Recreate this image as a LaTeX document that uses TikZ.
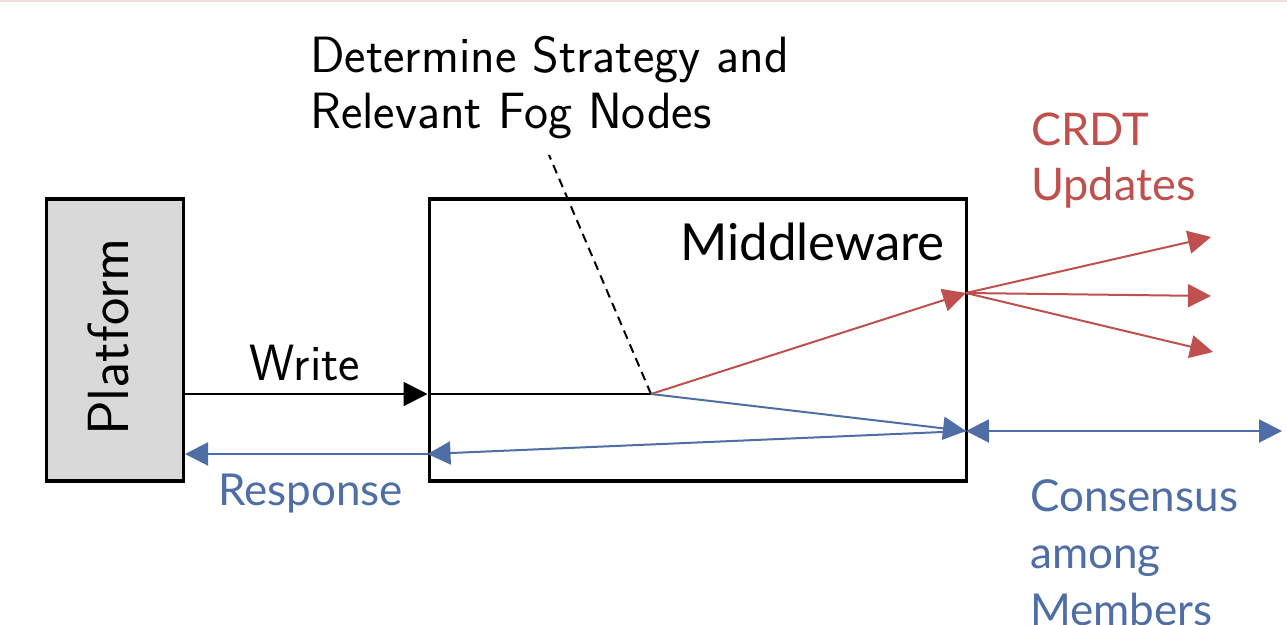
\documentclass[tikz,border=0pt]{standalone}
\usepackage{fontspec}
\newfontfamily\latofont{Lato}
\usetikzlibrary{arrows.meta}
\definecolor{cred}{HTML}{C0504D}
\definecolor{cblue}{HTML}{4F6EA6}
\definecolor{pgray}{HTML}{D9D9D9}
\definecolor{toppink}{HTML}{F2DCDC}
\begin{document}
\begin{tikzpicture}[x=1pt,y=-1pt,
  boxstyle/.style={draw=black, line width=3.5pt, rectangle, inner sep=0pt, anchor=north west},
  conn/.style={line width=2pt},
  tipbig/.style={-{Triangle[length=24pt,width=24pt]}},
  tipsm/.style={-{Triangle[length=23pt,width=23pt]}},
  lmtext/.style={inner sep=0pt, font=\sffamily},
  latotext/.style={inner sep=0pt, font=\latofont}
]
\clip (0,0) rectangle (1287,624);
\fill[white] (0,0) rectangle (1287,624);
\draw[toppink, line width=2pt] (0,0.8) -- (1287,0.8);

% boxes
\node[boxstyle, fill=pgray, minimum width=137pt, minimum height=282pt] (plat) at (44.5,197) {};
\node[boxstyle, minimum width=537pt, minimum height=282pt] (mw) at (427.5,197) {};

% labels
\node[lmtext, rotate=90, anchor=base, font=\sffamily\fontsize{58}{60}\selectfont] (platlbl) at (128,337) {Platform};
\node[latotext, anchor=base east, font=\latofont\fontsize{51}{56}\selectfont] (mwlbl) at (945,260) {Middleware};
\node[lmtext, anchor=base, font=\sffamily\fontsize{51}{55}\selectfont] (writelbl) at (305,380) {Write};
\node[latotext, anchor=base west, text=cblue, font=\latofont\fontsize{44}{50}\selectfont] (resplbl) at (218,505) {Response};
\node[lmtext, anchor=north west, align=left, font=\sffamily\fontsize{51}{56}\selectfont] (detlbl) at (310,36) {Determine Strategy and\\Relevant Fog Nodes};
\node[latotext, anchor=north west, align=left, text=cred, font=\latofont\fontsize{45}{55}\selectfont] (crdtlbl) at (1031,113) {CRDT\\Updates};
\node[latotext, anchor=north west, align=left, text=cblue, font=\latofont\fontsize{44}{57}\selectfont] (conslbl) at (1030,479) {Consensus\\among\\Members};

% coordinates
\coordinate (split) at (651,394);
\coordinate (dtop) at (549,155);
\coordinate (jr) at (966,293);
\coordinate (jb) at (966,431);
\coordinate (r1) at (1211,237);
\coordinate (r2) at (1211,296);
\coordinate (r3) at (1213,352);
\coordinate (b1) at (1282,431);
\coordinate (wstart) at (plat.east |- split);
\coordinate (wend) at (mw.west |- split);
\coordinate (respy) at (0,454);
\coordinate (rin) at (mw.west |- respy);
\coordinate (rout) at (plat.east |- respy);

% connectors
\draw[conn, black, tipbig] (wstart) -- (wend);
\draw[conn, black] (wend) -- (split);
\draw[black, line width=2pt, dash pattern=on 9pt off 6pt] (split) -- (dtop);
\draw[conn, cred, tipsm] (split) -- (jr);
\draw[conn, cred, tipsm] (jr) -- (r1);
\draw[conn, cred, tipsm] (jr) -- (r2);
\draw[conn, cred, tipsm] (jr) -- (r3);
\draw[conn, cblue, tipsm] (split) -- (jb);
\draw[conn, cblue, tipsm] (jb) -- (rin);
\draw[conn, cblue, tipsm] (rin) -- (rout);
\draw[conn, cblue, {Triangle[length=23pt,width=23pt]}-{Triangle[length=23pt,width=23pt]}] (jb) -- (b1);
\end{tikzpicture}
\end{document}
